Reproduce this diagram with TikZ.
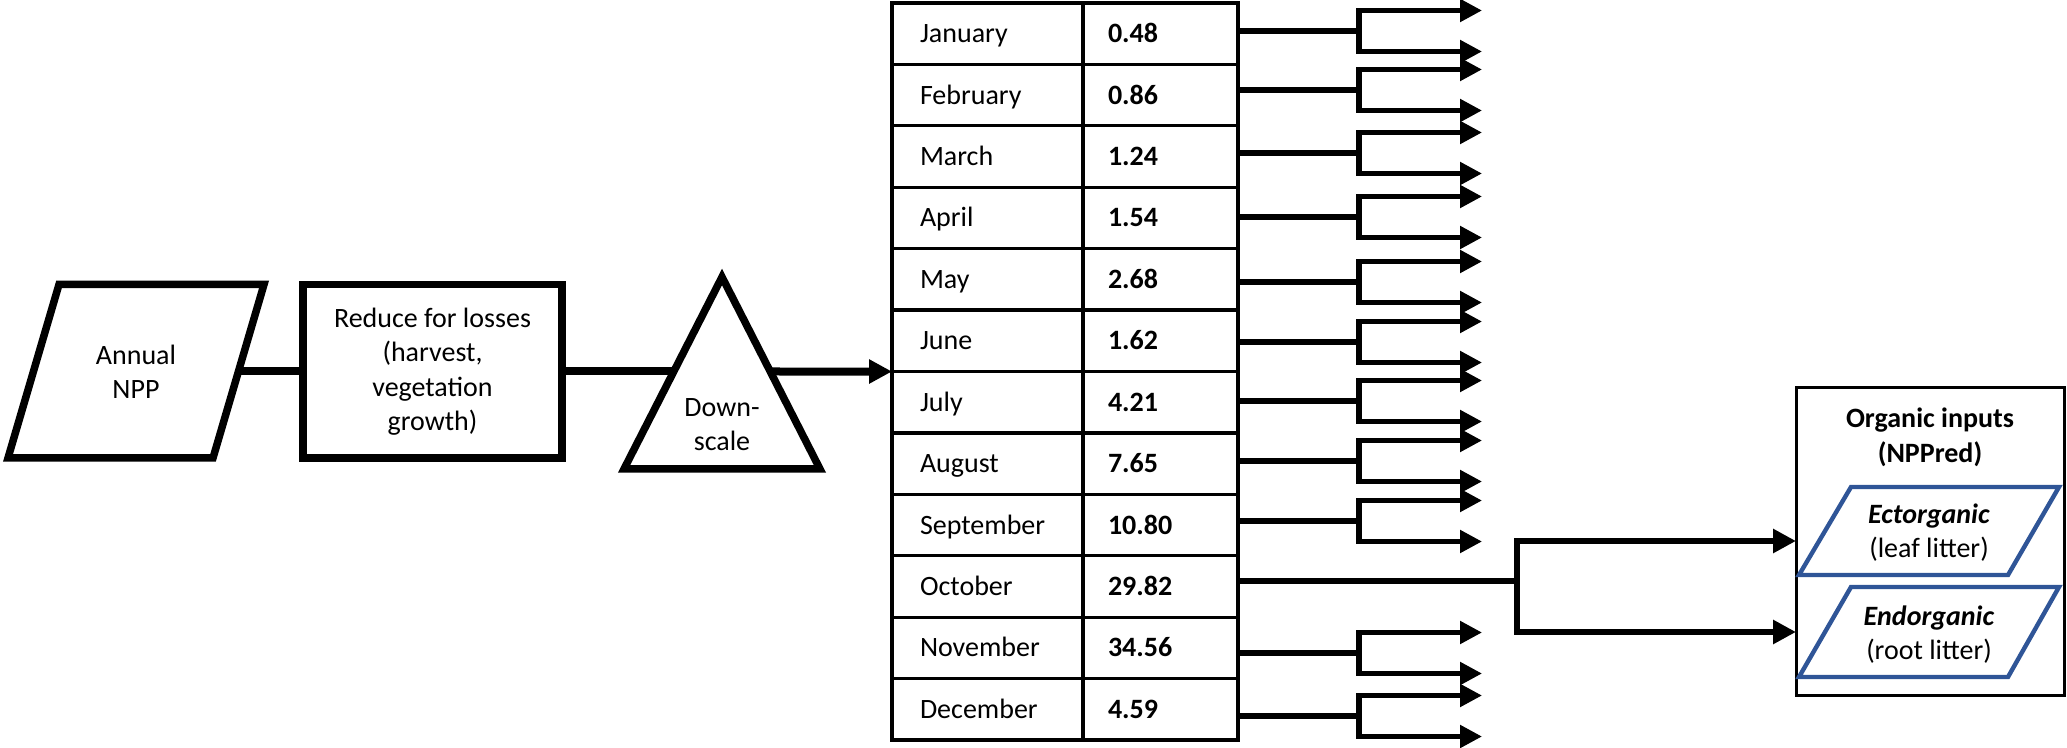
\documentclass[tikz,border=0pt]{standalone}
\usepackage{fontspec}
\setmainfont{Carlito}
\usetikzlibrary{arrows.meta}
\definecolor{pblue}{RGB}{47,85,151}
\begin{document}
\begin{tikzpicture}[x=0.5pt,y=-0.5pt,
  txt/.style={font=\fontsize{14pt}{17.25pt}\selectfont, align=center, inner sep=0pt},
  outl/.style={draw=black, line width=3.75pt, line join=miter},
  cell/.style={draw=black, line width=1.6pt, rectangle, outer sep=0pt, minimum height=30.71pt,
    inner ysep=0pt, text height=9pt, text depth=0pt, align=left},
  mcell/.style={cell, minimum width=95.5pt, text width=67.5pt, inner xsep=14pt,
    font=\fontsize{14pt}{17pt}\selectfont},
  vcell/.style={cell, minimum width=77.5pt, text width=52.5pt, inner xsep=12.5pt,
    font=\fontsize{14pt}{17pt}\selectfont\bfseries},
  main/.style={line width=4pt},
  link/.style={line width=2.6pt},
  brn/.style={line width=2.6pt, line join=miter, {Triangle[length=11pt,width=11pt]}-{Triangle[length=11pt,width=11pt]}},
  octl/.style={line width=3.2pt},
  octa/.style={line width=3.2pt, line join=miter, {Triangle[length=11.5pt,width=11.5pt]}-{Triangle[length=11.5pt,width=11.5pt]}},
  bluep/.style={draw=pblue, line width=2.2pt, line join=miter}
]
\useasboundingbox (0,0) rectangle (2067,748);

% Annual NPP parallelogram
\draw[outl] (59,284.5) -- (264,284.5) -- (213,458) -- (8,458) -- cycle;
\node[txt] (npp) at (136,372) {Annual\\NPP};
\coordinate (nppR) at (238.6,371.5);

% Reduce box
\node[outl, txt, minimum width=129.5pt, minimum height=86.75pt] (reduce) at (432.5,371.5)
  {Reduce for losses\\(harvest,\\vegetation\\growth)};

% Down-scale triangle
\draw[outl] (624,469) -- (722,277) -- (820,469) -- cycle;
\node[txt] (down) at (722,424.5) {Down-\\scale};
\coordinate (triL) at (674,371.5);
\coordinate (triR) at (770,371.5);

% Table
\foreach \m/\v [count=\i] in {January/0.48, February/0.86, March/1.24, April/1.54, May/2.68,
  June/1.62, July/4.21, August/7.65, September/10.80, October/29.82, November/34.56, December/4.59} {
  \pgfmathsetmacro\cy{3+61.42*(\i-0.5)}
  \node[mcell] (m\i) at (987.5,\cy) {\m};
  \node[vcell] (v\i) at (1160.5,\cy) {\v};
}

% main flow connectors
\draw[main] (nppR) -- (reduce.west);
\draw[main] (reduce.east) -- (triL);
\draw[main, -{Triangle[length=11.5pt,width=11.5pt]}] (triR) -- (m6.south west);

% monthly branches
\foreach \i/\ly in {1/31, 2/90, 3/153, 4/217, 5/282, 6/342, 7/401, 8/461, 9/521, 11/653, 12/716} {
  \coordinate (j\i) at (1359,\ly);
  \coordinate (t\i) at (1482,{\ly-20.5});
  \coordinate (b\i) at (1482,{\ly+20.5});
  \draw[link] (j\i -| v\i.east) -- (j\i);
  \draw[brn] (t\i) -| (j\i) |- (b\i);
}

% Organic inputs box
\node[draw, line width=1.5pt, minimum width=134pt, minimum height=153.5pt, inner sep=0pt, outer sep=0pt]
  (org) at (1930,541.5) {};
\node[txt, font=\fontsize{14pt}{17.5pt}\selectfont\bfseries] (orgt) at (1930,437.5) {Organic inputs\\(NPPred)};

\draw[bluep] (1851,487) -- (2059,487) -- (2008,575) -- (1799,575) -- cycle;
\node[txt] (ecto) at (1929,532.5) {\textbf{\textit{Ectorganic}}\\(leaf litter)};
\draw[bluep] (1851,587) -- (2059,587) -- (2008,677) -- (1799,677) -- cycle;
\node[txt] (endo) at (1929,634.5) {\textbf{\textit{Endorganic}}\\(root litter)};

% October branch
\coordinate (j10) at (1517,581);
\coordinate (ot) at (1517,541);
\coordinate (ob) at (1517,632);
\draw[octl] (j10 -| v10.east) -- (j10);
\draw[octa] (ot -| org.west) -| (j10) |- (ob -| org.west);
\end{tikzpicture}
\end{document}
